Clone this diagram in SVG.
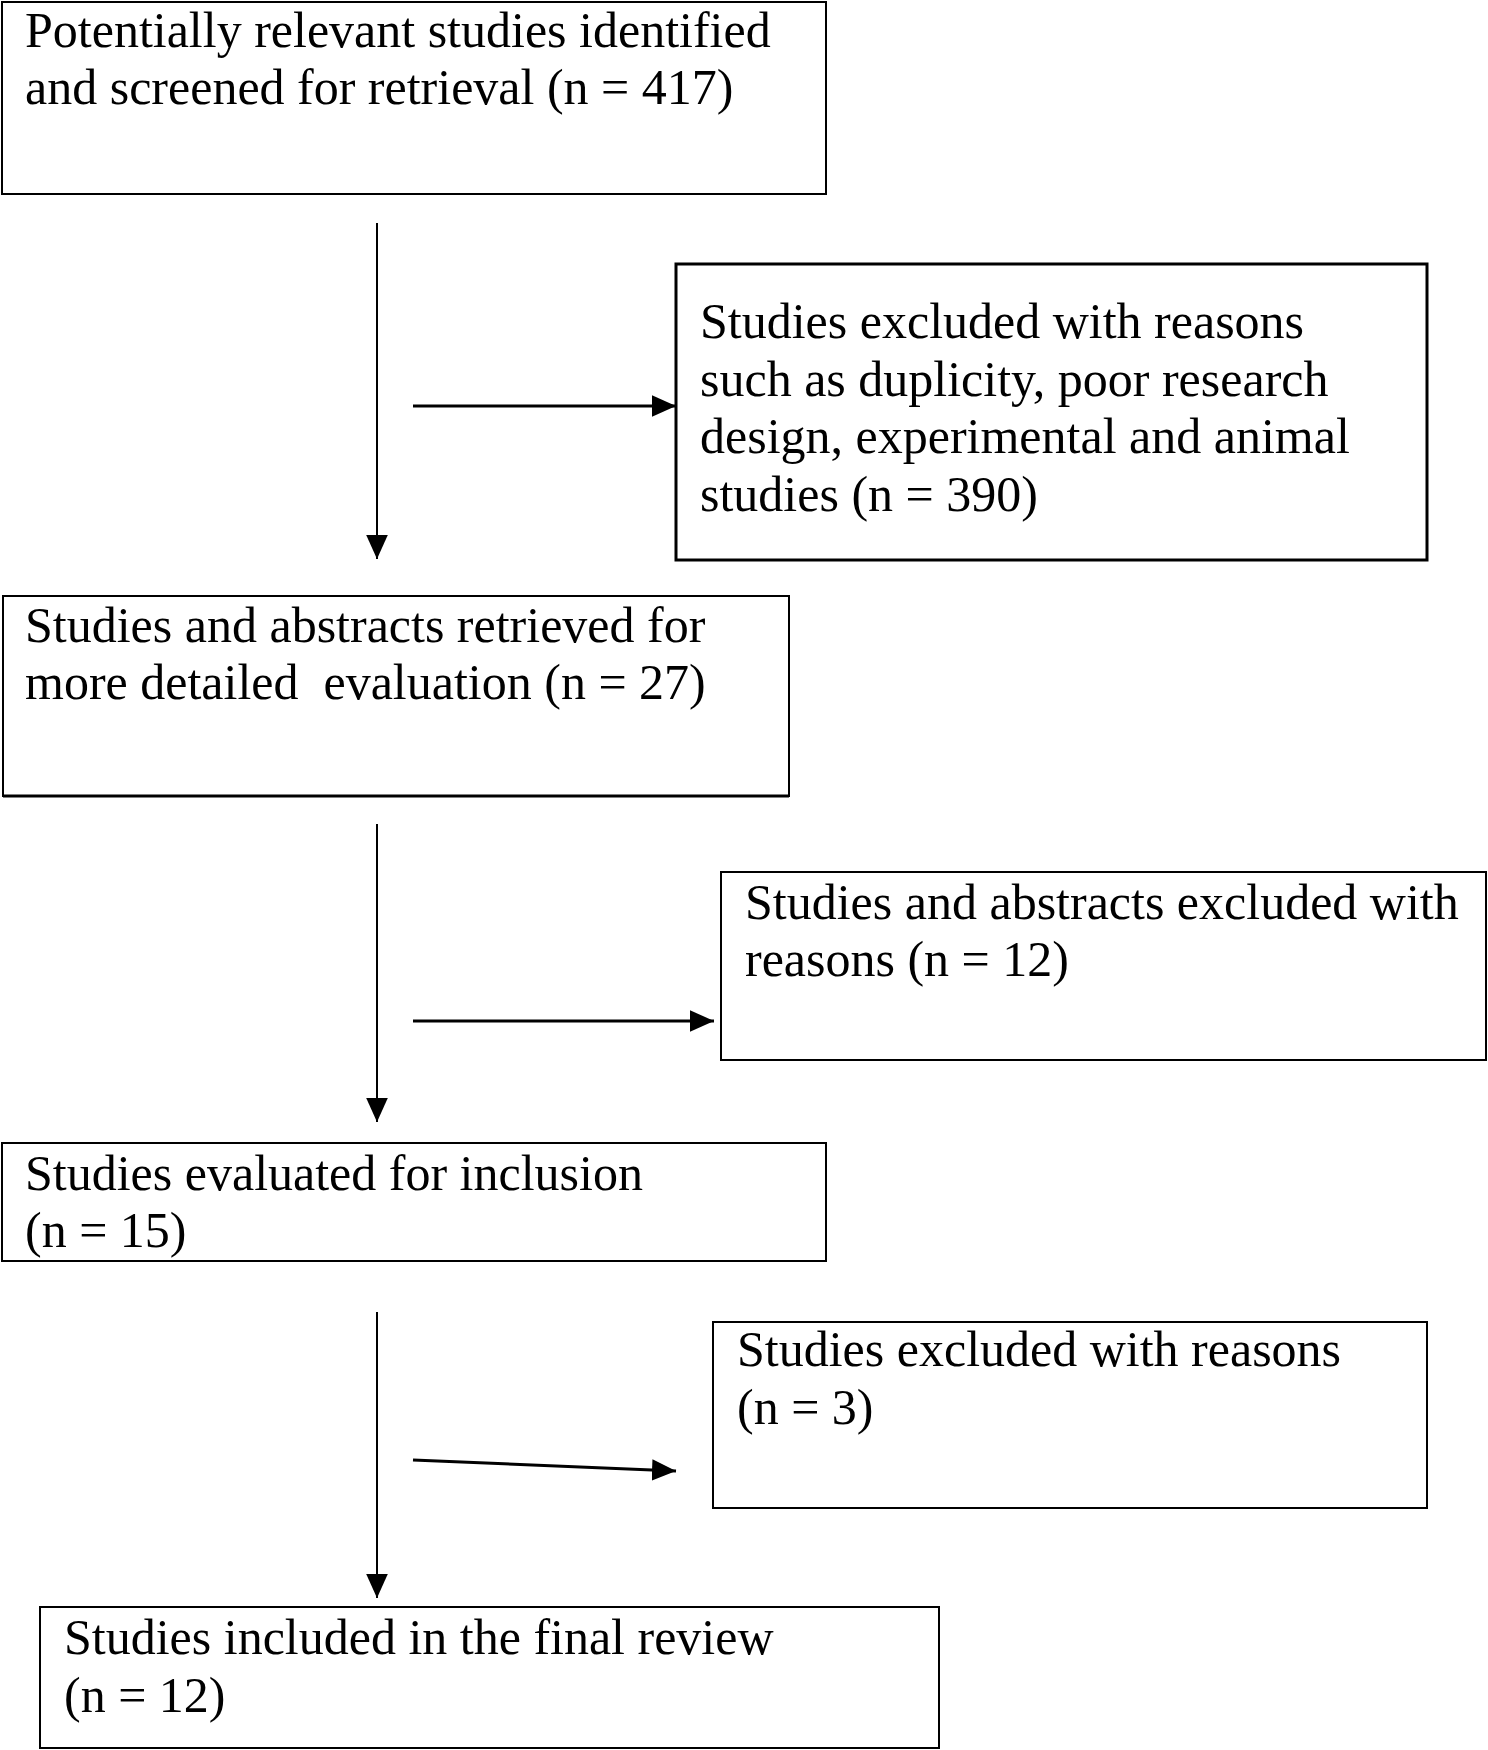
<svg xmlns="http://www.w3.org/2000/svg" width="1488" height="1750" viewBox="0 0 1488 1750">
<style>
.box{fill:#fff;stroke:#000;stroke-width:2}
.thick{stroke-width:3}
text{font-family:"Liberation Serif","Times New Roman",serif;font-size:50px;fill:#000}
.v{stroke:#000;stroke-width:2;fill:none}
.h{stroke:#000;stroke-width:3;fill:none}
</style>
<defs>
<marker id="ah" viewBox="0 0 10 10" refX="10" refY="5" markerWidth="24" markerHeight="24" markerUnits="userSpaceOnUse" orient="auto">
<path d="M0,0.5 L10,5 L0,9.5 Z" fill="#000"/>
</marker>
</defs>
<rect width="1488" height="1750" fill="#fff"/>
<g id="connectors">
<line class="v" x1="377" y1="223" x2="377" y2="559" marker-end="url(#ah)"/>
<line class="h" x1="413" y1="406" x2="676" y2="406" marker-end="url(#ah)"/>
<line class="v" x1="377" y1="824" x2="377" y2="1122" marker-end="url(#ah)"/>
<line class="h" x1="413" y1="1021" x2="714" y2="1021" marker-end="url(#ah)"/>
<line class="v" x1="377" y1="1312" x2="377" y2="1598" marker-end="url(#ah)"/>
<line class="h" x1="413" y1="1460" x2="676" y2="1471" marker-end="url(#ah)"/>
</g>
<g id="n1">
<rect class="box" x="2" y="2" width="824" height="192"/>
<text x="25" y="47">Potentially relevant studies identified</text>
<text x="25" y="104">and screened for retrieval (n = 417)</text>
</g>
<g id="n2">
<rect class="box thick" x="676" y="264" width="751" height="296"/>
<text x="700" y="338">Studies excluded with reasons</text>
<text x="700" y="396">such as duplicity, poor research</text>
<text x="700" y="453">design, experimental and animal</text>
<text x="700" y="511">studies (n = 390)</text>
</g>
<g id="n3">
<rect class="box" x="3" y="596" width="786" height="200"/>
<line x1="3" y1="796" x2="789" y2="796" stroke="#000" stroke-width="3"/>
<text x="25" y="642">Studies and abstracts retrieved for</text>
<text x="25" y="699" xml:space="preserve">more detailed  evaluation (n = 27)</text>
</g>
<g id="n4">
<rect class="box" x="721" y="872" width="765" height="188"/>
<text x="745" y="919">Studies and abstracts excluded with</text>
<text x="745" y="976">reasons (n = 12)</text>
</g>
<g id="n5">
<rect class="box" x="2" y="1143" width="824" height="118"/>
<text x="25" y="1190">Studies evaluated for inclusion</text>
<text x="25" y="1247">(n = 15)</text>
</g>
<g id="n6">
<rect class="box" x="713" y="1322" width="714" height="186"/>
<text x="737" y="1366">Studies excluded with reasons</text>
<text x="737" y="1424">(n = 3)</text>
</g>
<g id="n7">
<rect class="box" x="40" y="1607" width="899" height="141"/>
<text x="64" y="1654">Studies included in the final review</text>
<text x="64" y="1712">(n = 12)</text>
</g>
</svg>
